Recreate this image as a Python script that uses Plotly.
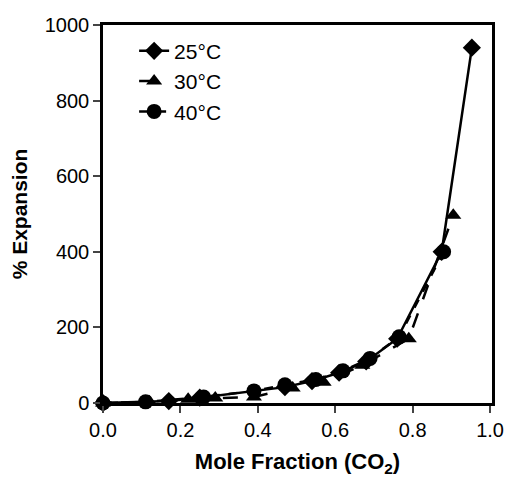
import plotly.graph_objects as go

x25 = [0.0, 0.17, 0.25, 0.47, 0.54, 0.61, 0.68, 0.76, 0.875, 0.953]
y25 = [0, 5, 14, 42, 58, 80, 110, 170, 400, 940]
x30 = [0.0, 0.12, 0.22, 0.29, 0.39, 0.49, 0.57, 0.67, 0.79, 0.905]
y30 = [0, 3, 10, 13, 16, 40, 55, 100, 170, 497]
x40 = [0.0, 0.11, 0.26, 0.39, 0.47, 0.55, 0.62, 0.69, 0.765, 0.88]
y40 = [0, 3, 16, 32, 48, 62, 85, 118, 175, 400]
names = ["25°C", "30°C", "40°C"]

fig = go.Figure()
fig.add_trace(go.Scatter(x=x25, y=y25, name=names[0], mode="lines+markers",
                         line=dict(color="black", width=2.5),
                         marker=dict(symbol="diamond", size=14, color="black"),
                         cliponaxis=False))
fig.add_trace(go.Scatter(x=x30, y=y30, name=names[1], mode="lines+markers",
                         line=dict(color="black", width=2.5, dash="longdash"),
                         marker=dict(symbol="triangle-up", size=14, color="black"),
                         cliponaxis=False))
fig.add_trace(go.Scatter(x=x40, y=y40, name=names[2], mode="lines+markers",
                         line=dict(color="black", width=2.5, dash="dash"),
                         marker=dict(symbol="circle", size=15, color="black"),
                         cliponaxis=False))

fig.update_layout(
    width=508, height=477,
    margin=dict(l=103, r=16, t=25, b=74, autoexpand=False),
    paper_bgcolor="white", plot_bgcolor="white",
    font=dict(family="Liberation Sans, Arial", size=20, color="black"),
    showlegend=True,
    legend=dict(x=0.08, y=0.985, xanchor="left", yanchor="top",
                bgcolor="rgba(0,0,0,0)", font=dict(size=21),
                tracegroupgap=0),
)
fig.update_xaxes(range=[0, 1.005], tickvals=[0, 0.2, 0.4, 0.6, 0.8, 1.0],
                 tickformat=".1f", ticks="outside", ticklen=7, tickwidth=2,
                 showline=True, linewidth=2.5, linecolor="black", mirror=True,
                 showgrid=False, zeroline=False, automargin=False,
                 title=dict(text="<b>Mole Fraction (CO<sub>2</sub>)</b>",
                            font=dict(size=22), standoff=16))
fig.update_yaxes(range=[0, 1000], tickvals=[0, 200, 400, 600, 800, 1000],
                 ticks="outside", ticklen=7, tickwidth=2,
                 showline=True, linewidth=2.5, linecolor="black", mirror=True,
                 showgrid=False, zeroline=False, automargin=False,
                 title=dict(text="<b>% Expansion</b>", font=dict(size=21), standoff=12))

# remove the page's default body margin so the 508x477 figure fills the window exactly
fig.write_html(
    "out.html",
    config={"displayModeBar": False},
    post_script="document.body.style.margin='0';"
                "document.documentElement.style.overflow='hidden';",
)
